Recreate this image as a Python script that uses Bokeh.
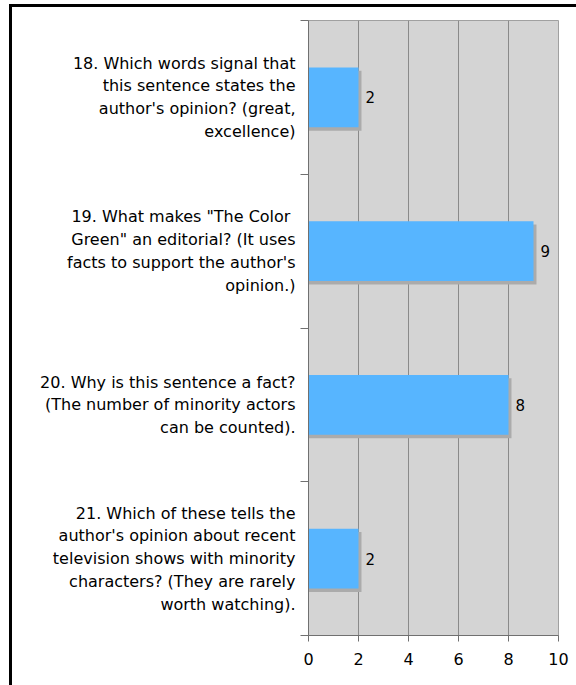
from bokeh.plotting import figure
from bokeh.layouts import column
from bokeh.models import ColumnDataSource, Range1d, FixedTicker
from bokeh.core.properties import value
from bokeh.embed import file_html
from bokeh.resources import INLINE

questions = [
    "18. Which words signal that\nthis sentence states the\nauthor's opinion? (great,\nexcellence)",
    "19.  What makes \"The Color\nGreen\" an editorial? (It uses\nfacts to support the author's\nopinion.)",
    "20. Why is this sentence a fact?\n(The number of minority actors\ncan be counted).",
    "21. Which of these tells the\nauthor's opinion about recent\ntelevision shows with minority\ncharacters? (They are rarely\nworth watching).",
]
counts = [2, 9, 8, 2]
x_ticks = [0, 2, 4, 6, 8, 10]

pos = list(range(len(questions)))
src = ColumnDataSource(dict(
    y=pos,
    right=counts,
    sh_y=[p + 0.022 for p in pos],
    sh_right=[c + 0.12 for c in counts],
    lab=[str(c) for c in counts],
))

FONT = "DejaVu Sans"

p = figure(width=564, height=678, output_backend="svg", toolbar_location=None,
           x_range=Range1d(0, 10), y_range=Range1d(len(pos) - 0.5, -0.5),
           min_border_left=296, min_border_right=18, min_border_top=13, min_border_bottom=50)
p.background_fill_color = "#d4d4d4"
p.border_fill_color = "white"
p.outline_line_color = "#a0a0a0"

p.hbar(y="sh_y", left=0, right="sh_right", height=0.39, source=src,
       fill_color="#ababab", line_color=None)
p.hbar(y="y", left=0, right="right", height=0.39, source=src,
       fill_color="#57b5ff", line_color=None)
p.text(x="right", y="y", text="lab", source=src, x_offset=7,
       text_baseline="middle", text_align="left", text_font=value(FONT),
       text_font_size="15px", text_color="black")

p.xaxis.ticker = FixedTicker(ticks=x_ticks)
p.xaxis.major_label_text_font = FONT
p.xaxis.major_label_text_font_size = "16px"
p.xaxis.major_label_text_color = "black"
p.xaxis.axis_line_color = "#707070"
p.xaxis.major_tick_line_color = "#707070"
p.xaxis.major_tick_in = 0
p.xaxis.major_tick_out = 6
p.xaxis.minor_tick_line_color = None
p.xaxis.major_label_standoff = 11

p.yaxis.ticker = FixedTicker(ticks=pos, minor_ticks=[p_ + 0.5 for p_ in [-1] + pos])
p.yaxis.major_label_overrides = {i: q for i, q in zip(pos, questions)}
p.yaxis.major_label_text_font = FONT
p.yaxis.major_label_text_font_size = "16px"
p.yaxis.major_label_text_color = "black"
p.yaxis.major_label_text_align = "right"
p.yaxis.major_tick_line_color = None
p.yaxis.minor_tick_in = 0
p.yaxis.minor_tick_out = 8
p.yaxis.minor_tick_line_color = "#707070"
p.yaxis.axis_line_color = "#707070"
p.yaxis.major_label_standoff = 5

p.xgrid.grid_line_color = "#8a8a8a"
p.xgrid.ticker = FixedTicker(ticks=x_ticks)
p.ygrid.grid_line_color = None

layout = column(p, styles={"border-left": "3px solid black", "border-top": "3px solid black",
                           "margin-left": "9px", "margin-top": "4px"})

open("out.html", "w").write(file_html(layout, INLINE))
